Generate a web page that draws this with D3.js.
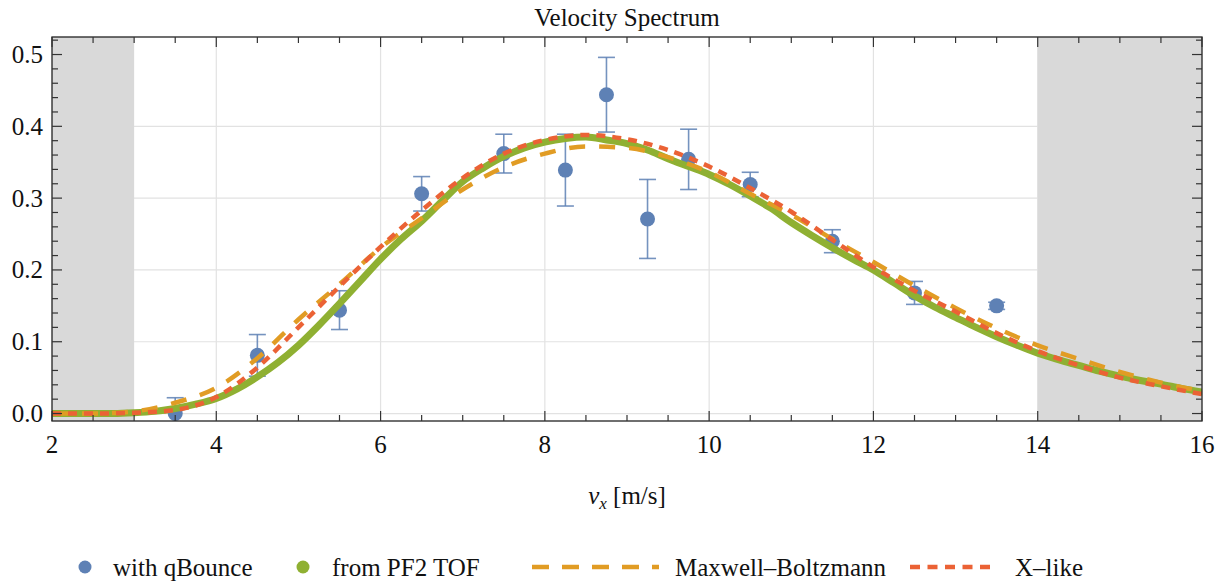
<!DOCTYPE html>
<html>
<head>
<meta charset="utf-8">
<script src="https://cdn.jsdelivr.net/npm/d3@7"></script>
<style>
  body { margin: 0; background: #fff; }
</style>
</head>
<body>
<div id="chart"></div>
<script>
// qBounce measurements (x, y, error)
const qbX = [3.5, 4.5, 5.5, 6.5, 7.5, 8.25, 8.75, 9.25, 9.75, 10.5, 11.5, 12.5, 13.5];
const qbY = [0.0, 0.081, 0.144, 0.306, 0.362, 0.339, 0.444, 0.271, 0.354, 0.319, 0.240, 0.168, 0.150];
const qbErr = [0.022, 0.029, 0.027, 0.024, 0.027, 0.050, 0.052, 0.055, 0.042, 0.017, 0.016, 0.016, 0.005];

// PF2 TOF spectrum, read every 0.25 m/s from 2 to 16
const tofX = d3.range(2, 16.001, 0.25);
const tofY = [0.000, 0.000, 0.000, 0.000, 0.001, 0.003, 0.007, 0.013, 0.021, 0.034,
  0.051, 0.071, 0.095, 0.123, 0.153, 0.184, 0.215, 0.243, 0.268, 0.296,
  0.323, 0.342, 0.358, 0.370, 0.378, 0.383, 0.385, 0.381, 0.376, 0.367,
  0.355, 0.344, 0.333, 0.319, 0.303, 0.286, 0.266, 0.248, 0.231, 0.215,
  0.200, 0.182, 0.164, 0.148, 0.134, 0.120, 0.107, 0.095, 0.084, 0.075,
  0.067, 0.059, 0.052, 0.046, 0.041, 0.035, 0.030];

// fitted curves, read every 0.5 m/s
const fitX = d3.range(2, 16.001, 0.5);
const mbY = [0.000, 0.000, 0.003, 0.015, 0.036, 0.077, 0.131, 0.180, 0.231, 0.272,
  0.312, 0.343, 0.362, 0.372, 0.370, 0.357, 0.336, 0.306, 0.277, 0.243,
  0.211, 0.178, 0.147, 0.119, 0.095, 0.076, 0.058, 0.043, 0.031];
const xlY = [0.000, 0.000, 0.001, 0.005, 0.023, 0.064, 0.120, 0.177, 0.232, 0.283,
  0.328, 0.362, 0.381, 0.388, 0.382, 0.367, 0.344, 0.314, 0.281, 0.242,
  0.204, 0.171, 0.142, 0.112, 0.087, 0.067, 0.050, 0.038, 0.027];

const xMajor = [2, 4, 6, 8, 10, 12, 14, 16];
const yMajor = [0.0, 0.1, 0.2, 0.3, 0.4, 0.5];
const shaded = [[2, 3], [14, 16]];
const legendNames = ["with qBounce", "from PF2 TOF", "Maxwell\u2013Boltzmann", "X\u2013like"];

const blue = "#5e81b5", green = "#8fb032", orange = "#e19c24", red = "#eb6235";
const serif = "'Liberation Serif', 'Times New Roman', Times, 'DejaVu Serif', serif";

const width = 1232, height = 585;
const svg = d3.select("#chart").append("svg")
  .attr("width", width).attr("height", height)
  .attr("font-family", serif)
  .style("font-family", serif);

const x = d3.scaleLinear().domain([2, 16]).range([52, 1202]);
const y = d3.scaleLinear().domain([-0.0104, 0.5244]).range([421, 37]);
const [x0, x1] = x.range(), [y0, y1] = y.range();

// grid
svg.append("g").selectAll("line").data(xMajor.slice(1, -1)).join("line")
  .attr("x1", d => x(d)).attr("x2", d => x(d)).attr("y1", y1).attr("y2", y0)
  .attr("stroke", "#e2e2e2").attr("stroke-width", 1.2);
svg.append("g").selectAll("line").data(yMajor.slice(0, 5)).join("line")
  .attr("x1", x0).attr("x2", x1).attr("y1", d => y(d)).attr("y2", d => y(d))
  .attr("stroke", "#e2e2e2").attr("stroke-width", 1.2);

// excluded ranges
svg.append("g").selectAll("rect").data(shaded).join("rect")
  .attr("x", d => x(d[0])).attr("width", d => x(d[1]) - x(d[0]))
  .attr("y", y1).attr("height", y0 - y1)
  .attr("fill", "#d9d9d9");

svg.append("clipPath").attr("id", "plotclip").append("rect")
  .attr("x", x0).attr("y", y1).attr("width", x1 - x0).attr("height", y0 - y1);

// qBounce error bars + points
const qb = svg.append("g").attr("clip-path", "url(#plotclip)");
qbX.forEach((vx, i) => {
  const cx = x(vx), lo = y(qbY[i] - qbErr[i]), hi = y(qbY[i] + qbErr[i]);
  qb.append("line").attr("x1", cx).attr("x2", cx).attr("y1", lo).attr("y2", hi)
    .attr("stroke", blue).attr("stroke-width", 1.6).attr("opacity", 0.85);
  [lo, hi].forEach(cy => qb.append("line")
    .attr("x1", cx - 8.5).attr("x2", cx + 8.5).attr("y1", cy).attr("y2", cy)
    .attr("stroke", blue).attr("stroke-width", 1.6).attr("opacity", 0.85));
});
qb.selectAll("circle").data(qbX).join("circle")
  .attr("cx", d => x(d)).attr("cy", (d, i) => y(qbY[i])).attr("r", 7.5)
  .attr("fill", blue);

const line = d3.line().x(d => x(d[0])).y(d => y(d[1])).curve(d3.curveMonotoneX);

const curves = svg.append("g").attr("clip-path", "url(#plotclip)");
curves.append("path").datum(tofX.map((v, i) => [v, tofY[i]]))
  .attr("d", line).attr("fill", "none").attr("stroke", green)
  .attr("stroke-width", 7).attr("stroke-linejoin", "round").attr("stroke-linecap", "round");
curves.append("path").datum(fitX.map((v, i) => [v, mbY[i]]))
  .attr("d", line).attr("fill", "none").attr("stroke", orange)
  .attr("stroke-width", 4.5).attr("stroke-dasharray", "16,14");
curves.append("path").datum(fitX.map((v, i) => [v, xlY[i]]))
  .attr("d", line).attr("fill", "none").attr("stroke", red)
  .attr("stroke-width", 4.5).attr("stroke-dasharray", "9,7");

// frame and ticks
svg.append("rect").attr("x", x0).attr("y", y1).attr("width", x1 - x0).attr("height", y0 - y1)
  .attr("fill", "none").attr("stroke", "#222").attr("stroke-width", 1.3);

const ticks = svg.append("g").attr("stroke", "#333").attr("stroke-width", 1.2);
d3.range(2, 16.001, 0.5).forEach(v => {
  const len = v % 2 === 0 ? 10 : 6;
  ticks.append("line").attr("x1", x(v)).attr("x2", x(v)).attr("y1", y0).attr("y2", y0 - len);
  ticks.append("line").attr("x1", x(v)).attr("x2", x(v)).attr("y1", y1).attr("y2", y1 + len);
});
d3.range(0, 0.521, 0.02).forEach(v => {
  const major = Math.abs(v * 10 - Math.round(v * 10)) < 1e-6;
  const len = major ? 10 : 6;
  ticks.append("line").attr("x1", x0).attr("x2", x0 + len).attr("y1", y(v)).attr("y2", y(v));
  ticks.append("line").attr("x1", x1).attr("x2", x1 - len).attr("y1", y(v)).attr("y2", y(v));
});

svg.append("g").selectAll("text").data(xMajor).join("text")
  .attr("x", d => x(d)).attr("y", 453).attr("text-anchor", "middle")
  .attr("font-size", 25).attr("fill", "#111").text(d => d);
svg.append("g").selectAll("text").data(yMajor).join("text")
  .attr("x", 43).attr("y", d => y(d) + 8.5).attr("text-anchor", "end")
  .attr("font-size", 25).attr("fill", "#111").text(d => d.toFixed(1));

svg.append("text").attr("x", 627).attr("y", 26).attr("text-anchor", "middle")
  .attr("font-size", 25).attr("fill", "#111").text("Velocity Spectrum");

const xl = svg.append("text").attr("x", 627).attr("y", 504).attr("text-anchor", "middle")
  .attr("font-size", 25).attr("fill", "#111");
xl.append("tspan").attr("font-style", "italic").text("v");
xl.append("tspan").attr("font-style", "italic").attr("font-size", 17).attr("dy", 5).text("x");
xl.append("tspan").attr("dy", -5).text(" [m/s]");

// legend
const lg = svg.append("g").attr("font-size", 25).attr("fill", "#111");
const ly = 567;
lg.append("circle").attr("cx", 85).attr("cy", ly).attr("r", 6.5).attr("fill", blue);
lg.append("circle").attr("cx", 303).attr("cy", ly).attr("r", 6.5).attr("fill", green);
lg.append("line").attr("x1", 532).attr("x2", 659).attr("y1", ly).attr("y2", ly)
  .attr("stroke", orange).attr("stroke-width", 4.5).attr("stroke-dasharray", "17,13");
lg.append("line").attr("x1", 910).attr("x2", 990).attr("y1", ly).attr("y2", ly)
  .attr("stroke", red).attr("stroke-width", 4.5).attr("stroke-dasharray", "10,7.5");
[113, 332, 675, 1015].forEach((lx, i) => {
  lg.append("text").attr("x", lx).attr("y", ly + 9).text(legendNames[i]);
});
</script>
</body>
</html>
